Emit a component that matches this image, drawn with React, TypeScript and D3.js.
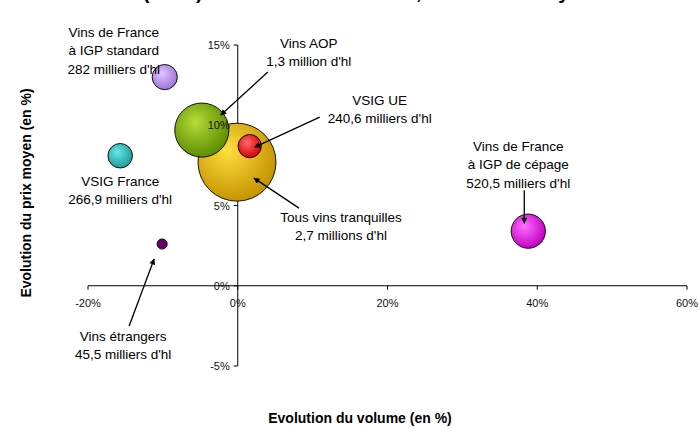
import React, { useEffect, useRef } from 'react';
import * as d3 from 'd3';

// Evolution du volume (en %) / Evolution du prix moyen (en %) / volume en milliers d'hl
const categories = [
  'Vins de France\nà IGP standard',
  'Vins AOP',
  'VSIG France',
  'Tous vins tranquilles',
  'VSIG UE',
  'Vins de France\nà IGP de cépage',
  'Vins étrangers',
];
const volumeLabels = [
  "282 milliers d'hl",
  "1,3 million d'hl",
  "266,9 milliers d'hl",
  "2,7 millions d'hl",
  "240,6 milliers d'hl",
  "520,5 milliers d'hl",
  "45,5 milliers d'hl",
];
const volumeEvol = [-9.75, -4.8, -15.7, -0.1, 1.6, 38.8, -10.1];
const priceEvol = [13.0, 9.7, 8.1, 7.7, 8.7, 3.4, 2.6];
const volumes = [282, 1300, 266.9, 2700, 240.6, 520.5, 45.5];

const xTicks = [-20, 0, 20, 40, 60];
const yTicks = [-5, 0, 5, 10, 15];

// bubble colours: [highlight, edge]
const colors = [
  ['#e2c8ff', '#9c72d6'],
  ['#b4dc3a', '#5e8c00'],
  ['#6ae6e6', '#1c9c9c'],
  ['#ffe040', '#c49200'],
  ['#ff6a6a', '#d00000'],
  ['#ff70ff', '#c000c0'],
  ['#660066', '#660066'],
];

// label placement relative to bubble centre (px): label centre, arrow from / to
const layout = [
  { lx: -51, ly: -45, arrow: null },
  { lx: 107, ly: -87, arrow: [66, -58, 19, -15] },
  { lx: 0, ly: 25, arrow: null },
  { lx: 104, ly: 55, arrow: [62, 46, 17, 16] },
  { lx: 130, ly: -46, arrow: [70, -29, 5, 1] },
  { lx: -10, ly: -85, arrow: [-4, -41, -4, -8] },
  { lx: -39, ly: 92, arrow: [-33, 82, -8, 15] },
];

const font = "'Liberation Sans', Arial, sans-serif";

const App = () => {
  const ref = useRef<SVGSVGElement>(null);

  const graph = () => {
    const svg = d3.select(ref.current);
    svg.selectAll('*').remove();

    const x = d3.scaleLinear().domain([-20, 60]).range([88, 687]);
    const y = d3.scaleLinear().domain([-5, 15]).range([366, 45]);
    const r = d3.scaleSqrt().domain([0, 2700]).range([0, 39]);

    const defs = svg.append('defs');
    colors.forEach((c, i) => {
      const g = defs.append('radialGradient')
        .attr('id', `grad${i}`)
        .attr('cx', '42%').attr('cy', '40%').attr('r', '62%')
        .attr('fx', '38%').attr('fy', '34%');
      g.append('stop').attr('offset', '0%').attr('stop-color', c[0]);
      g.append('stop').attr('offset', '100%').attr('stop-color', c[1]);
    });
    defs.append('marker')
      .attr('id', 'arrow')
      .attr('viewBox', '0 0 10 10')
      .attr('refX', 9).attr('refY', 5)
      .attr('markerWidth', 7).attr('markerHeight', 6)
      .attr('markerUnits', 'userSpaceOnUse')
      .attr('orient', 'auto')
      .append('path')
      .attr('d', 'M0,0L10,5L0,10z')
      .attr('fill', '#000');

    // cropped title (only descenders visible in the frame)
    svg.append('text')
      .attr('x', 46).attr('y', -1)
      .style('font-family', font).style('font-size', '20px').style('font-weight', 'bold')
      .text('Evolution (en %) des ventes en volume, et du coût moyen');

    // axes lines
    svg.append('line')
      .attr('x1', x(0)).attr('x2', x(0))
      .attr('y1', y(15)).attr('y2', y(-5))
      .attr('stroke', '#000');
    svg.append('line')
      .attr('x1', x(-20)).attr('x2', x(60))
      .attr('y1', y(0)).attr('y2', y(0))
      .attr('stroke', '#000');

    svg.append('g').selectAll('line').data(yTicks).enter().append('line')
      .attr('x1', x(0) - 4).attr('x2', x(0))
      .attr('y1', d => y(d)).attr('y2', d => y(d))
      .attr('stroke', '#000');
    svg.append('g').selectAll('line').data(xTicks).enter().append('line')
      .attr('x1', d => x(d)).attr('x2', d => x(d))
      .attr('y1', y(0)).attr('y2', y(0) + 4)
      .attr('stroke', '#000');

    // bubbles, largest first
    const idx = d3.range(categories.length).sort((a, b) => volumes[b] - volumes[a]);
    svg.append('g').selectAll('circle').data(idx).enter().append('circle')
      .attr('cx', i => x(volumeEvol[i]))
      .attr('cy', i => y(priceEvol[i]))
      .attr('r', i => r(volumes[i]))
      .attr('fill', i => `url(#grad${i})`)
      .attr('stroke', '#000')
      .attr('stroke-width', 0.9);

    // tick labels
    svg.append('g').selectAll('text').data(yTicks).enter().append('text')
      .attr('x', x(0) - 8).attr('y', d => y(d) + 4)
      .attr('text-anchor', 'end')
      .style('font-family', font).style('font-size', '11px').attr('fill', '#111')
      .text(d => `${d}%`);
    svg.append('g').selectAll('text').data(xTicks).enter().append('text')
      .attr('x', d => x(d)).attr('y', y(0) + 21)
      .attr('text-anchor', 'middle')
      .style('font-family', font).style('font-size', '11px').attr('fill', '#111')
      .text(d => `${d}%`);

    // annotations
    const ann = svg.append('g');
    categories.forEach((c, i) => {
      const cx = x(volumeEvol[i]);
      const cy = y(priceEvol[i]);
      const l = layout[i];
      const lines = c.split('\n').concat(volumeLabels[i]);
      const t = ann.append('text')
        .attr('text-anchor', 'middle')
        .style('font-family', font).style('font-size', '13.5px').attr('fill', '#000');
      lines.forEach((s, k) => {
        t.append('tspan')
          .attr('x', cx + l.lx)
          .attr('y', cy + l.ly + 4.8 + k * 18.4)
          .text(s);
      });
      if (l.arrow) {
        ann.append('line')
          .attr('x1', cx + l.arrow[0]).attr('y1', cy + l.arrow[1])
          .attr('x2', cx + l.arrow[2]).attr('y2', cy + l.arrow[3])
          .attr('stroke', '#000').attr('stroke-width', 1.3)
          .attr('marker-end', 'url(#arrow)');
      }
    });

    // axis titles
    svg.append('text')
      .attr('x', 360).attr('y', 423)
      .attr('text-anchor', 'middle')
      .style('font-family', font).style('font-size', '14px').style('font-weight', 'bold')
      .text('Evolution du volume (en %)');
    svg.append('text')
      .attr('transform', 'translate(31,193) rotate(-90)')
      .attr('text-anchor', 'middle')
      .style('font-family', font).style('font-size', '14px').style('font-weight', 'bold')
      .text('Evolution du prix moyen (en %)');
  };

  useEffect(() => graph());

  return (
    <svg ref={ref} width="700" height="428"
      style={{ position: 'absolute', left: 0, top: 0, background: '#fff' }} />
  );
};

export default App;
